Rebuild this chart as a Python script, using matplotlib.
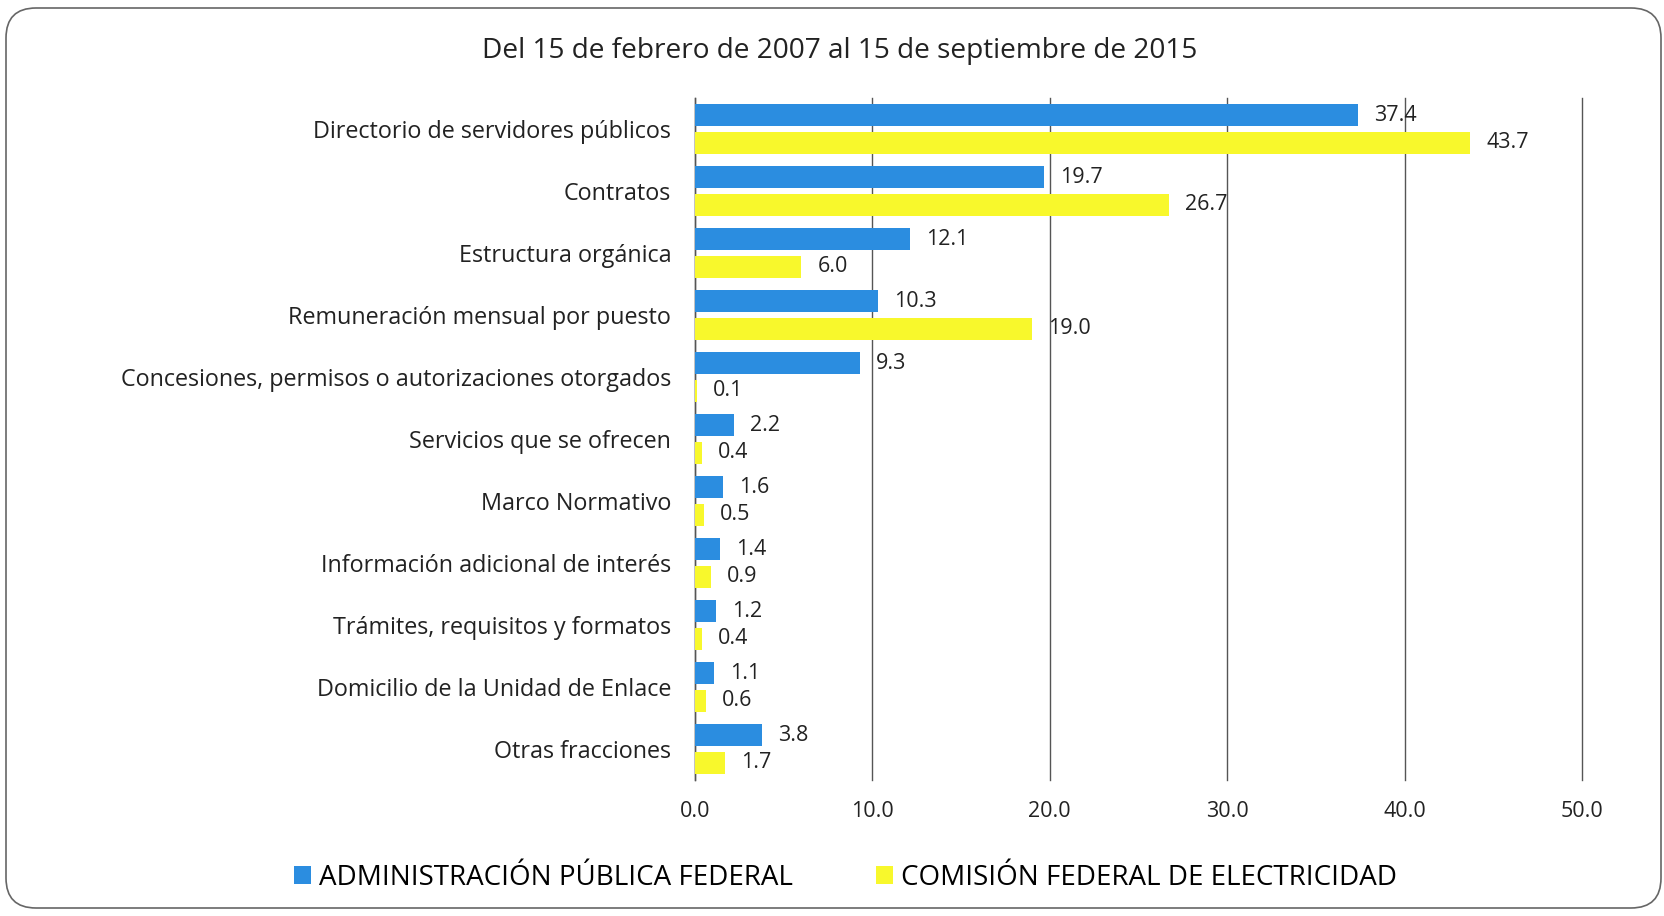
import matplotlib.pyplot as plt
import numpy as np
from matplotlib.patches import FancyBboxPatch, Patch
from matplotlib.transforms import IdentityTransform

plt.rcParams['font.family'] = ['Open Sans', 'DejaVu Sans']

categories = [
    "Directorio de servidores públicos",
    "Contratos",
    "Estructura orgánica",
    "Remuneración mensual por puesto",
    "Concesiones, permisos o autorizaciones otorgados",
    "Servicios que se ofrecen",
    "Marco Normativo",
    "Información adicional de interés",
    "Trámites, requisitos y formatos",
    "Domicilio de la Unidad de Enlace",
    "Otras fracciones",
]
apf = [37.4, 19.7, 12.1, 10.3, 9.3, 2.2, 1.6, 1.4, 1.2, 1.1, 3.8]
cfe = [43.7, 26.7, 6.0, 19.0, 0.1, 0.4, 0.5, 0.9, 0.4, 0.6, 1.7]
series_names = ["ADMINISTRACIÓN PÚBLICA FEDERAL", "COMISIÓN FEDERAL DE ELECTRICIDAD"]
x_ticks = [0, 10, 20, 30, 40, 50]
title = "Del 15 de febrero de 2007 al 15 de septiembre de 2015"

blue = '#2b8de0'
yellow = '#f8f82c'
txt = '#222222'

fig = plt.figure(figsize=(16.65, 9.16), dpi=100)
ax = fig.add_axes([0.4174, 0.1485, 0.5327, 0.7445])

y = np.arange(len(categories))
h = 0.36
off = 0.225
ax.barh(y - off, apf, height=h, color=blue, zorder=3)
ax.barh(y + off, cfe, height=h, color=yellow, zorder=3)

# value labels
for i in range(len(categories)):
    ax.annotate(f"{apf[i]:.1f}", (apf[i], y[i] - off), xytext=(16, 0),
                textcoords='offset pixels', va='center', ha='left', fontsize=15.5, color=txt)
    ax.annotate(f"{cfe[i]:.1f}", (cfe[i], y[i] + off), xytext=(16, 0),
                textcoords='offset pixels', va='center', ha='left', fontsize=15.5, color=txt)

ax.set_xlim(0, 50)
ax.set_ylim(len(categories) - 0.5, -0.5)
ax.set_xticks(x_ticks)
ax.set_xticklabels([f"{v:.1f}" for v in x_ticks], fontsize=15.5, color=txt)
ax.set_yticks(y)
ax.set_yticklabels(categories, fontsize=16.8, color=txt)
ax.tick_params(axis='both', length=0)
ax.tick_params(axis='x', pad=15)
ax.tick_params(axis='y', pad=17)
ax.grid(axis='x', color='#555555', linewidth=1.0, zorder=0)
for gl in ax.get_xgridlines():
    gl.set_clip_on(False)
for s in ['top', 'right', 'bottom']:
    ax.spines[s].set_visible(False)
ax.spines['left'].set_color('#555555')
ax.spines['left'].set_linewidth(1.0)

fig.text(0.5046, 0.944, title, ha='center', va='center', fontsize=20.2, color=txt)

handles = [Patch(facecolor=blue, edgecolor='none'), Patch(facecolor=yellow, edgecolor='none')]
fig.legend(handles, series_names, loc='center', bbox_to_anchor=(0.508, 0.042), ncol=2,
           frameon=False, fontsize=20, handlelength=0.6, handleheight=0.6,
           handletextpad=0.3, columnspacing=3.0)

# rounded frame around the chart
frame = FancyBboxPatch((6, 8), 1655, 900, boxstyle="round,pad=0,rounding_size=30",
                       transform=IdentityTransform(), facecolor='none',
                       edgecolor='#666666', linewidth=1.2)
fig.patches.append(frame)

fig.savefig("out.png", dpi=100)
